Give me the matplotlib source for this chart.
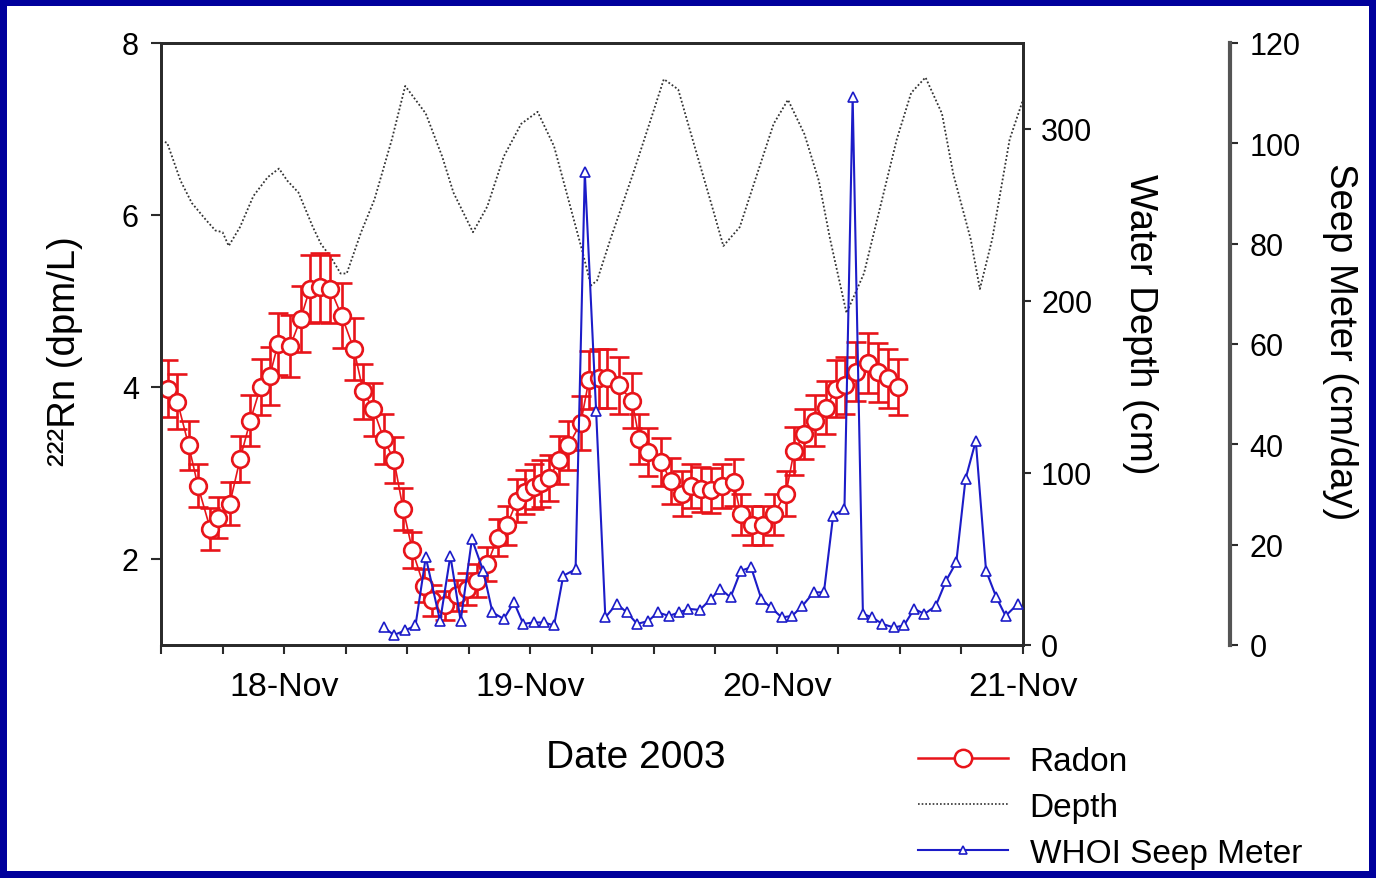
import matplotlib
matplotlib.use('Agg')
import matplotlib.pyplot as plt
from matplotlib.lines import Line2D
from matplotlib.patches import Rectangle

plt.rcParams['font.family'] = ['Liberation Sans', 'DejaVu Sans']

# ---------------- data (hours after 18-Nov-2003 00:00) ----------------
radon_hours = [-11.3, -10.4, -9.3, -8.4, -7.2, -6.4, -5.3, -4.3, -3.3, -2.3,
               -1.4, -0.6, 0.6, 1.6, 2.5, 3.5, 4.5, 5.6, 6.8, 7.7,
               8.7, 9.7, 10.7, 11.6, 12.5, 13.6, 14.4, 15.7, 16.8, 17.8,
               18.8, 19.8, 20.8, 21.7, 22.7, 23.5, 24.3, 25.0, 25.8, 26.8,
               27.7, 28.9, 29.7, 30.7, 31.5, 32.6, 33.9, 34.6, 35.5, 36.7,
               37.7, 38.8, 39.6, 40.6, 41.6, 42.7, 43.8, 44.5, 45.6, 46.7,
               47.7, 48.9, 49.7, 50.7, 51.7, 52.8, 53.8, 54.7, 55.7, 56.9,
               57.9, 58.8, 59.8]
radon_values = [3.98, 3.83, 3.32, 2.85, 2.35, 2.48, 2.64, 3.16, 3.61, 4.00,
                4.13, 4.50, 4.48, 4.79, 5.14, 5.16, 5.14, 4.83, 4.44, 3.95,
                3.74, 3.40, 3.15, 2.58, 2.10, 1.69, 1.52, 1.46, 1.58, 1.65,
                1.75, 1.94, 2.25, 2.39, 2.68, 2.78, 2.84, 2.88, 2.94, 3.15,
                3.32, 3.58, 4.08, 4.10, 4.10, 4.02, 3.84, 3.40, 3.24, 3.13,
                2.91, 2.76, 2.85, 2.81, 2.80, 2.85, 2.89, 2.52, 2.39, 2.39,
                2.52, 2.76, 3.26, 3.45, 3.61, 3.76, 3.98, 4.02, 4.18, 4.28,
                4.17, 4.10, 4.00]
radon_errors = [0.33, 0.32, 0.28, 0.25, 0.24, 0.24, 0.25, 0.27, 0.30, 0.33,
                0.34, 0.36, 0.36, 0.38, 0.40, 0.40, 0.40, 0.38, 0.36, 0.32,
                0.31, 0.29, 0.27, 0.24, 0.21, 0.19, 0.18, 0.17, 0.18, 0.19,
                0.19, 0.20, 0.22, 0.23, 0.25, 0.26, 0.26, 0.27, 0.27, 0.28,
                0.29, 0.31, 0.34, 0.34, 0.34, 0.33, 0.32, 0.29, 0.28, 0.28,
                0.27, 0.26, 0.26, 0.26, 0.26, 0.26, 0.27, 0.24, 0.23, 0.23,
                0.24, 0.26, 0.28, 0.29, 0.30, 0.31, 0.33, 0.33, 0.34, 0.35,
                0.34, 0.34, 0.33]

depth_hours = [-12.0, -11.4, -10.1, -9.0, -7.6, -6.7, -6.0, -5.4, -4.3, -3.0,
               -1.6, -0.5, 0.3, 1.4, 2.8, 3.6, 4.5, 5.5, 6.1, 7.5,
               8.8, 10.5, 11.8, 13.8, 15.4, 16.5, 18.4, 19.8, 21.4, 23.1,
               24.7, 26.3, 27.7, 29.1, 29.9, 30.5, 31.8, 34.0, 35.7, 37.0,
               38.4, 39.8, 41.7, 42.8, 44.4, 46.1, 47.7, 49.1, 50.7, 52.1,
               53.2, 54.8, 56.5, 58.1, 59.7, 61.1, 62.5, 64.1, 65.2, 66.9,
               67.8, 69.0, 70.7, 72.0]
depth_cm = [293, 292, 270, 257, 247, 241, 240, 232, 243, 261,
            272, 277, 270, 263, 243, 233, 226, 216, 216, 240,
            259, 294, 325, 309, 284, 263, 240, 255, 284, 303,
            310, 290, 259, 228, 209, 212, 236, 274, 305, 329,
            323, 294, 255, 232, 243, 274, 303, 317, 297, 270,
            236, 193, 216, 255, 294, 321, 330, 309, 274, 236,
            207, 236, 294, 317]

seep_hours = [9.7, 10.7, 11.8, 12.8, 13.8, 15.2, 16.2, 17.2, 18.3, 19.4,
              20.3, 21.4, 22.4, 23.3, 24.3, 25.3, 26.3, 27.2, 28.4, 29.3,
              30.4, 31.3, 32.4, 33.4, 34.4, 35.5, 36.4, 37.5, 38.5, 39.4,
              40.5, 41.6, 42.5, 43.5, 44.5, 45.5, 46.5, 47.4, 48.5, 49.5,
              50.5, 51.6, 52.6, 53.5, 54.6, 55.4, 56.4, 57.3, 58.3, 59.4,
              60.4, 61.4, 62.4, 63.5, 64.5, 65.5, 66.4, 67.4, 68.4, 69.4,
              70.3, 71.5]
seep_cm_day = [3.5, 2.0, 2.9, 3.9, 17.5, 4.8, 17.8, 4.8, 21.1, 14.8,
               6.5, 5.2, 8.5, 4.2, 4.5, 4.5, 3.9, 13.8, 15.1, 94.2,
               46.7, 5.5, 8.2, 6.5, 4.2, 4.8, 6.5, 5.8, 6.5, 7.2,
               7.0, 9.2, 11.2, 9.5, 14.8, 15.5, 9.2, 7.5, 5.5, 5.8,
               7.8, 10.5, 10.5, 25.8, 27.1, 109.2, 6.2, 5.5, 4.2, 3.5,
               3.9, 7.2, 6.2, 7.8, 12.8, 16.5, 33.1, 40.7, 14.8, 9.5,
               5.8, 8.2]

day_ticks = [0, 24, 48, 72]
day_labels = ['18-Nov', '19-Nov', '20-Nov', '21-Nov']
radon_ticks = [2, 4, 6, 8]
depth_ticks = [0, 100, 200, 300]
seep_ticks = [0, 20, 40, 60, 80, 100, 120]
legend_labels = ['Radon', 'Depth', 'WHOI Seep Meter']

# ---------------- styling ----------------
RED = '#e8141a'
BLUE = '#1c1cc8'
DOT = '#333333'
SPINE = '#2a2a2a'
DOTSTYLE = (0, (1, 1.2))
YTICK_FS = 22
XTICK_FS = 24.5
LABEL_FS = 27.5

W, H = 1376, 879
fig = plt.figure(figsize=(W / 100, H / 100), dpi=100)
fig.patch.set_facecolor('#00009c')
fig.add_artist(Rectangle((7 / W, 7 / H), 1 - 14 / W, 1 - 14 / H,
                         transform=fig.transFigure, facecolor='white',
                         edgecolor='none', zorder=-10))

ax = fig.add_axes([161 / W, 1 - 646 / H, 862 / W, 602 / H])
ax_d = ax.twinx()
ax_s = ax.twinx()
ax_d.set_zorder(1)
ax.set_zorder(2)
ax_s.set_zorder(3)
for a in (ax, ax_d, ax_s):
    a.patch.set_visible(False)

# depth (dotted)
ax_d.plot(depth_hours, depth_cm, ls=DOTSTYLE, color=DOT, lw=1.3)

# radon with error bars
ax.errorbar(radon_hours, radon_values, yerr=radon_errors, fmt='-o',
            color=RED, mfc='white', mec=RED, ms=12, mew=1.9, lw=1.2,
            elinewidth=1.9, capsize=7.5, capthick=1.9, ecolor=RED)

# seep meter
ax_s.plot(seep_hours, seep_cm_day, '-^', color=BLUE, mfc='white', mec=BLUE,
          ms=6.5, lw=1.5, mew=1.2)

# limits & ticks
ax.set_xlim(-12, 72)
ax.set_ylim(1, 8)
ax_d.set_ylim(0, 350)
ax_s.set_ylim(0, 120)

ax.set_xticks(day_ticks, day_labels)
ax.set_xticks(list(range(-12, 73, 6)), minor=True)
ax.set_yticks(radon_ticks)
ax_d.set_yticks(depth_ticks)
ax_s.set_yticks(seep_ticks)

ax.tick_params(axis='x', which='both', direction='out', length=6.5, width=1.5,
               color=SPINE, labelsize=XTICK_FS, pad=12)
ax.tick_params(axis='y', direction='out', length=7, width=1.5,
               color=SPINE, labelsize=YTICK_FS, pad=9)
ax_d.tick_params(axis='y', direction='out', length=6, width=1.5,
                 color=SPINE, labelsize=YTICK_FS, pad=7)
ax_s.tick_params(axis='y', direction='out', length=6, width=1.5,
                 color=SPINE, labelsize=YTICK_FS, pad=8)

for a in (ax, ax_d):
    for sp in a.spines.values():
        sp.set_color(SPINE)
        sp.set_linewidth(2)
for k in ('left', 'top', 'bottom'):
    ax_s.spines[k].set_visible(False)
ax_s.spines['right'].set_position(('axes', 1.2401))
ax_s.spines['right'].set_color('#555555')
ax_s.spines['right'].set_linewidth(3)

# axis labels
ax.set_xlabel('Date 2003', fontsize=LABEL_FS + 0.5)
ax.xaxis.set_label_coords(0.551, -0.186)
ax.xaxis.label.set_va('center')

ax.set_ylabel('\u00b2\u00b2\u00b2Rn (dpm/L)', fontsize=LABEL_FS)
ax.yaxis.set_label_coords(-0.111, 0.49)
ax.yaxis.label.set_va('center')

ax_d.set_ylabel('Water Depth (cm)', fontsize=LABEL_FS, rotation=270)
ax_d.yaxis.set_label_coords(1.1357, 0.535)
ax_d.yaxis.label.set_va('center')

ax_s.set_ylabel('Seep Meter (cm/day)', fontsize=LABEL_FS, rotation=270)
ax_s.yaxis.set_label_coords(1.3677, 0.505)
ax_s.yaxis.label.set_va('center')

# legend
handles = [
    Line2D([], [], color=RED, lw=1.8, marker='o', ms=12.5, mfc='white',
           mec=RED, mew=1.8),
    Line2D([], [], color=DOT, lw=1.2, ls=DOTSTYLE),
    Line2D([], [], color=BLUE, lw=1.5, marker='^', ms=6, mfc='white',
           mec=BLUE, mew=1.2),
]
fig.legend(handles, legend_labels, loc='upper left',
           bbox_to_anchor=(918 / W, 1 - 747 / H), frameon=False,
           fontsize=24, handlelength=2.7, handletextpad=0.65,
           labelspacing=0.45, borderpad=0, borderaxespad=0, numpoints=1)

fig.savefig('out.png', dpi=100, facecolor=fig.get_facecolor())
